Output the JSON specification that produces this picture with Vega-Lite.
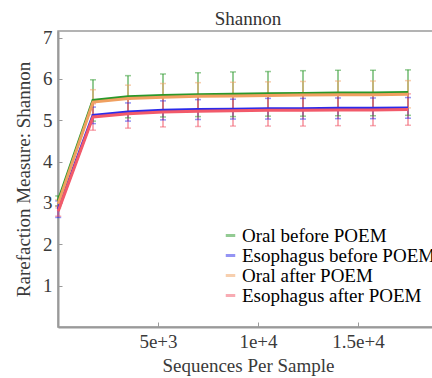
{
  "$schema": "https://vega.github.io/schema/vega-lite/v6.json",
  "autosize": {"type": "none"},
  "padding": {"left": 58, "top": 31, "right": 0, "bottom": 51},
  "width": 380,
  "height": 296,
  "background": "white",
  "config": {
    "view": {"stroke": "#9a9a9a", "strokeWidth": 1.5},
    "axis": {"domainColor": "#9a9a9a", "domainWidth": 2, "tickColor": "#9a9a9a", "grid": false, "titleFont": "Liberation Serif", "titleFontSize": 19, "labelColor": "#3a3a3a", "titleColor": "#3a3a3a", "titleFontWeight": "normal"}
  },
  "title": {"text": "Shannon", "font": "Liberation Serif", "fontSize": 19, "fontWeight": "normal", "color": "#333", "offset": 0},
  "data": {"values": [
    {"g": "Oral before POEM", "x": 10, "y": 3.05, "lo": 2.93, "hi": 3.17},
    {"g": "Oral before POEM", "x": 1750, "y": 5.48, "lo": 4.98, "hi": 5.98},
    {"g": "Oral before POEM", "x": 3500, "y": 5.57, "lo": 5.06, "hi": 6.08},
    {"g": "Oral before POEM", "x": 5250, "y": 5.60, "lo": 5.08, "hi": 6.12},
    {"g": "Oral before POEM", "x": 7000, "y": 5.62, "lo": 5.09, "hi": 6.15},
    {"g": "Oral before POEM", "x": 8750, "y": 5.63, "lo": 5.09, "hi": 6.17},
    {"g": "Oral before POEM", "x": 10500, "y": 5.64, "lo": 5.10, "hi": 6.18},
    {"g": "Oral before POEM", "x": 12250, "y": 5.65, "lo": 5.10, "hi": 6.20},
    {"g": "Oral before POEM", "x": 14000, "y": 5.66, "lo": 5.11, "hi": 6.21},
    {"g": "Oral before POEM", "x": 15750, "y": 5.66, "lo": 5.11, "hi": 6.21},
    {"g": "Oral before POEM", "x": 17500, "y": 5.67, "lo": 5.12, "hi": 6.22},
    {"g": "Esophagus before POEM", "x": 10, "y": 2.85, "lo": 2.65, "hi": 3.05},
    {"g": "Esophagus before POEM", "x": 1750, "y": 5.12, "lo": 4.92, "hi": 5.32},
    {"g": "Esophagus before POEM", "x": 3500, "y": 5.20, "lo": 4.98, "hi": 5.42},
    {"g": "Esophagus before POEM", "x": 5250, "y": 5.24, "lo": 5.01, "hi": 5.47},
    {"g": "Esophagus before POEM", "x": 7000, "y": 5.26, "lo": 5.02, "hi": 5.50},
    {"g": "Esophagus before POEM", "x": 8750, "y": 5.27, "lo": 5.03, "hi": 5.51},
    {"g": "Esophagus before POEM", "x": 10500, "y": 5.28, "lo": 5.03, "hi": 5.53},
    {"g": "Esophagus before POEM", "x": 12250, "y": 5.28, "lo": 5.03, "hi": 5.53},
    {"g": "Esophagus before POEM", "x": 14000, "y": 5.29, "lo": 5.04, "hi": 5.54},
    {"g": "Esophagus before POEM", "x": 15750, "y": 5.29, "lo": 5.04, "hi": 5.54},
    {"g": "Esophagus before POEM", "x": 17500, "y": 5.30, "lo": 5.05, "hi": 5.55},
    {"g": "Oral after POEM", "x": 10, "y": 2.98, "lo": 2.88, "hi": 3.08},
    {"g": "Oral after POEM", "x": 1750, "y": 5.44, "lo": 5.14, "hi": 5.74},
    {"g": "Oral after POEM", "x": 3500, "y": 5.53, "lo": 5.21, "hi": 5.85},
    {"g": "Oral after POEM", "x": 5250, "y": 5.56, "lo": 5.23, "hi": 5.89},
    {"g": "Oral after POEM", "x": 7000, "y": 5.58, "lo": 5.25, "hi": 5.91},
    {"g": "Oral after POEM", "x": 8750, "y": 5.59, "lo": 5.26, "hi": 5.92},
    {"g": "Oral after POEM", "x": 10500, "y": 5.60, "lo": 5.27, "hi": 5.93},
    {"g": "Oral after POEM", "x": 12250, "y": 5.61, "lo": 5.28, "hi": 5.94},
    {"g": "Oral after POEM", "x": 14000, "y": 5.62, "lo": 5.29, "hi": 5.95},
    {"g": "Oral after POEM", "x": 15750, "y": 5.62, "lo": 5.29, "hi": 5.95},
    {"g": "Oral after POEM", "x": 17500, "y": 5.63, "lo": 5.30, "hi": 5.96},
    {"g": "Esophagus after POEM", "x": 10, "y": 2.80, "lo": 2.68, "hi": 2.92},
    {"g": "Esophagus after POEM", "x": 1750, "y": 5.08, "lo": 4.76, "hi": 5.40},
    {"g": "Esophagus after POEM", "x": 3500, "y": 5.16, "lo": 4.81, "hi": 5.51},
    {"g": "Esophagus after POEM", "x": 5250, "y": 5.20, "lo": 4.84, "hi": 5.56},
    {"g": "Esophagus after POEM", "x": 7000, "y": 5.22, "lo": 4.85, "hi": 5.59},
    {"g": "Esophagus after POEM", "x": 8750, "y": 5.23, "lo": 4.86, "hi": 5.60},
    {"g": "Esophagus after POEM", "x": 10500, "y": 5.24, "lo": 4.86, "hi": 5.62},
    {"g": "Esophagus after POEM", "x": 12250, "y": 5.24, "lo": 4.86, "hi": 5.62},
    {"g": "Esophagus after POEM", "x": 14000, "y": 5.25, "lo": 4.87, "hi": 5.63},
    {"g": "Esophagus after POEM", "x": 15750, "y": 5.25, "lo": 4.87, "hi": 5.63},
    {"g": "Esophagus after POEM", "x": 17500, "y": 5.26, "lo": 4.88, "hi": 5.64}
  ]},
  "encoding": {
    "x": {"field": "x", "type": "quantitative", "scale": {"domain": [0, 19000], "nice": false, "zero": false},
      "axis": {"title": "Sequences Per Sample", "values": [5000, 10000, 15000], "format": ",", "tickSize": -5, "labelPadding": 10, "titlePadding": 5, "labelFont": "Liberation Serif", "labelFontSize": 19}},
    "color": {"field": "g", "type": "nominal",
      "scale": {"domain": ["Oral before POEM", "Esophagus before POEM", "Oral after POEM", "Esophagus after POEM"], "range": ["#2a982a", "#2b2bea", "#f0a060", "#f25a6a"]},
      "legend": {"title": null, "orient": "none", "legendX": 163, "legendY": 195, "symbolType": "stroke", "symbolStrokeWidth": 3, "symbolSize": 90, "labelFontSize": 19, "labelFont": "Liberation Serif", "labelLimit": 400, "rowPadding": -1, "labelOffset": 2, "padding": 0}}
  },
  "layer": [
    {
      "mark": {"type": "rule", "opacity": 0.5, "strokeWidth": 2},
      "encoding": {
        "y": {"field": "lo", "type": "quantitative", "scale": {"domain": [0, 7.16], "nice": false}, "title": "Rarefaction Measure: Shannon",
          "axis": {"values": [1, 2, 3, 4, 5, 6, 7], "tickSize": -4, "labelPadding": 10, "titlePadding": 9, "labelFont": "Liberation Serif", "labelFontSize": 19}},
        "y2": {"field": "hi"}
      }
    },
    {
      "mark": {"type": "tick", "orient": "horizontal", "size": 6, "thickness": 1.5, "opacity": 0.5},
      "encoding": {"y": {"field": "lo", "type": "quantitative"}}
    },
    {
      "mark": {"type": "tick", "orient": "horizontal", "size": 6, "thickness": 1.5, "opacity": 0.5},
      "encoding": {"y": {"field": "hi", "type": "quantitative"}}
    },
    {
      "mark": {"type": "line", "strokeWidth": 3},
      "encoding": {
        "y": {"field": "y", "type": "quantitative"}
      }
    }
  ]
}
